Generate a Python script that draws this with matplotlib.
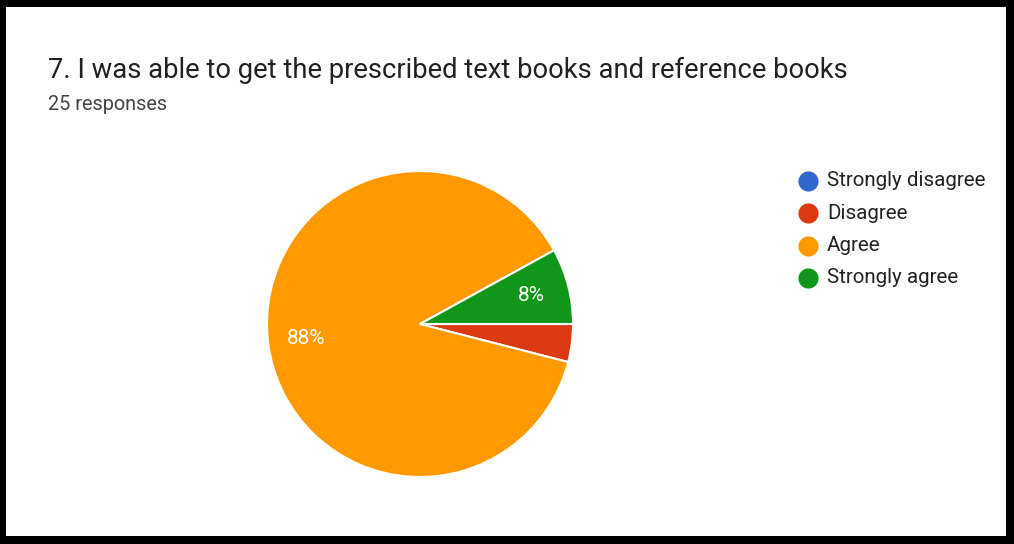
import matplotlib
matplotlib.use("Agg")
import matplotlib.pyplot as plt
from matplotlib.patches import Rectangle

title = "7. I was able to get the prescribed text books and reference books"
subtitle = "25 responses"
categories = ["Strongly disagree", "Disagree", "Agree", "Strongly agree"]
counts = [0, 1, 22, 2]
colors = ["#3366cc", "#dc3912", "#ff9900", "#109618"]

W, H = 1014, 544
fig = plt.figure(figsize=(W / 100, H / 100), dpi=100)
fig.patch.set_facecolor("black")

# overlay axes in pixel coordinates for frame, text and legend
ov = fig.add_axes([0, 0, 1, 1])
ov.set_xlim(0, W)
ov.set_ylim(H, 0)
ov.axis("off")
ov.add_patch(Rectangle((6, 7), 1000, 529, facecolor="white", edgecolor="none"))

ov.text(48, 70, title, fontsize=19.7, family="Roboto", color="#202124",
        va="center", ha="left")
ov.text(48, 104, subtitle, fontsize=14.3, family="Roboto", color="#444444",
        va="center", ha="left")

# legend
for i, (cat, col) in enumerate(zip(categories, colors)):
    y = 181 + i * 32.3
    ov.plot([808], [y], marker="o", markersize=14.5, color=col, markeredgewidth=0)
    ov.text(827, y, cat, fontsize=14.8, family="Roboto", color="#222222",
            va="center", ha="left")

# pie
cx, cy, r = 420, 324, 153
ax = fig.add_axes([(cx - r) / W, (H - cy - r) / H, 2 * r / W, 2 * r / H])

def fmt(p):
    return f"{p:.0f}%" if p >= 5 else ""

wedges, texts, autotexts = ax.pie(
    counts, colors=colors, startangle=0, counterclock=False,
    autopct=fmt, pctdistance=0.75,
    wedgeprops=dict(edgecolor="white", linewidth=1.5),
    textprops=dict(color="white", fontsize=15, family="Roboto"))
ax.set_aspect("equal")
ax.set_xlim(-1, 1)
ax.set_ylim(-1, 1)

fig.savefig("out.png", dpi=100, facecolor="black")
